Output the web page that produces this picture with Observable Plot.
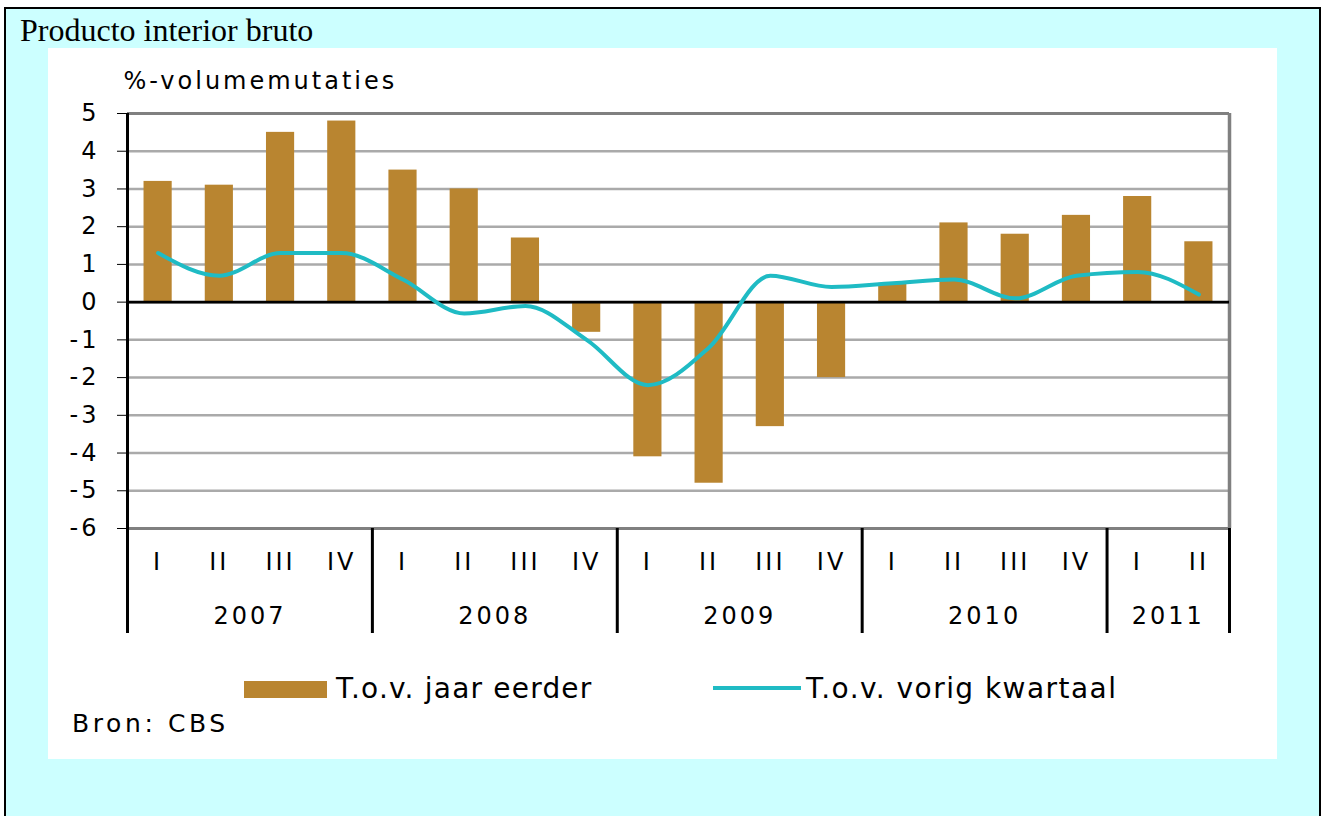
<!DOCTYPE html>
<html>
<head>
<meta charset="utf-8">
<script src="https://cdn.jsdelivr.net/npm/d3@7"></script>
<script src="https://cdn.jsdelivr.net/npm/@observablehq/plot@0.6"></script>
<style>
  html, body { margin: 0; padding: 0; background: #ffffff; width: 1321px; height: 816px; overflow: hidden; }
  #frame { position: absolute; left: 4px; top: 7px; width: 1313px; height: 830px; border: 2px solid #000; background: #CCFFFF; box-sizing: content-box; }
  #title { position: absolute; left: 20px; top: 14px; font-family: "Liberation Serif", "Times New Roman", serif; font-size: 32px; line-height: 32px; color: #000; white-space: nowrap; }
  #panel { position: absolute; left: 48px; top: 48px; width: 1229px; height: 711px; background: #fff; }
  #chart { position: absolute; left: 48px; top: 48px; }
  #chart svg text { letter-spacing: 3px; }
  .lg { position: absolute; font-family: "DejaVu Sans", sans-serif; color: #000; white-space: nowrap; }
  .sw { position: absolute; }
</style>
</head>
<body>
<div id="frame"></div>
<div id="title">Producto interior bruto</div>
<div id="panel"></div>
<div id="chart"></div>
<div class="sw" id="sw1" style="left:244px; top:681px; width:83px; height:17px;"></div>
<div class="lg" id="lt1" style="left:336px; top:675px; font-size:28px; line-height:28px; letter-spacing:1.2px;"></div>
<div class="sw" id="sw2" style="left:713px; top:686px; width:88px; height:4px;"></div>
<div class="lg" id="lt2" style="left:806px; top:675px; font-size:28px; line-height:28px; letter-spacing:1.45px;"></div>
<div class="lg" id="src" style="left:72px; top:711px; font-size:25px; line-height:25px; letter-spacing:3.6px;"></div>
<script>
// ---- data ----
const years = ["2007", "2008", "2009", "2010", "2011"];
const quartersPerYear = [4, 4, 4, 4, 2];
const quarters = ["I", "II", "III", "IV", "I", "II", "III", "IV", "I", "II", "III", "IV", "I", "II", "III", "IV", "I", "II"];
const yoy = [3.2, 3.1, 4.5, 4.8, 3.5, 3.0, 1.7, -0.8, -4.1, -4.8, -3.3, -2.0, 0.5, 2.1, 1.8, 2.3, 2.8, 1.6];
const qoq = [1.3, 0.7, 1.3, 1.3, 0.6, -0.3, -0.1, -1.0, -2.2, -1.2, 0.7, 0.4, 0.5, 0.6, 0.1, 0.7, 0.8, 0.2];
const yTicks = [5, 4, 3, 2, 1, 0, -1, -2, -3, -4, -5, -6];
const yLabel = "%-volumemutaties";
const seriesNames = ["T.o.v. jaar eerder", "T.o.v. vorig kwartaal"];
const sourceText = "Bron: CBS";

const barColor = "#B98530";
const lineColor = "#1FBBC4";

// ---- derived tables ----
const rows = quarters.map((q, i) => ({i, q, yoy: yoy[i], qoq: qoq[i]}));
const bounds = [];
const yearRows = [];
let acc = 0;
years.forEach((y, k) => {
  yearRows.push({year: y, mid: acc + quartersPerYear[k] / 2});
  acc += quartersPerYear[k];
  bounds.push(acc);
});
const n = quarters.length;

const chart = Plot.plot({
  width: 1229,
  height: 600,
  marginLeft: 79,
  marginRight: 48,
  marginTop: 65,
  marginBottom: 120,
  style: {fontFamily: "DejaVu Sans, sans-serif", fontSize: "24px", background: "transparent", color: "#000", overflow: "visible"},
  x: {domain: [0, n], axis: null},
  y: {domain: [-6, 5], ticks: yTicks, tickSize: 10, tickPadding: 18, tickFormat: d => String(d), label: null},
  marks: [
    Plot.ruleY(yTicks, {stroke: "#AAAAAA", strokeWidth: 2.5}),
    Plot.ruleY([yTicks[0], yTicks[yTicks.length - 1]], {stroke: "#808080", strokeWidth: 3}),
    Plot.ruleX([n], {stroke: "#808080", strokeWidth: 3.5}),
    Plot.rectY(rows, {x1: d => d.i + 0.27, x2: d => d.i + 0.73, y: "yoy", fill: barColor}),
    Plot.ruleY([0], {stroke: "#000", strokeWidth: 2.7}),
    Plot.line(rows, {x: d => d.i + 0.5, y: "qoq", stroke: lineColor, strokeWidth: 4, curve: "monotone-x"}),
    Plot.ruleX([0], {stroke: "#000", strokeWidth: 3, insetBottom: -105}),
    Plot.ruleX(bounds, {x: d => d, y1: () => -6, y2: () => -6, insetBottom: -105, stroke: "#000", strokeWidth: 3}),
    Plot.text(rows, {x: d => d.i + 0.5, text: "q", frameAnchor: "bottom", dy: 41, fontSize: 24, fill: "#000"}),
    Plot.text(yearRows, {x: "mid", text: "year", frameAnchor: "bottom", dy: 95, fontSize: 24, fill: "#000"}),
    Plot.text([yLabel], {frameAnchor: "top-left", dx: -4, dy: -42, textAnchor: "start", fontSize: 24, fill: "#000"})
  ]
});
document.getElementById("chart").appendChild(chart);

document.getElementById("sw1").style.background = barColor;
document.getElementById("sw2").style.background = lineColor;
document.getElementById("lt1").textContent = seriesNames[0];
document.getElementById("lt2").textContent = seriesNames[1];
document.getElementById("src").textContent = sourceText;
</script>
</body>
</html>
